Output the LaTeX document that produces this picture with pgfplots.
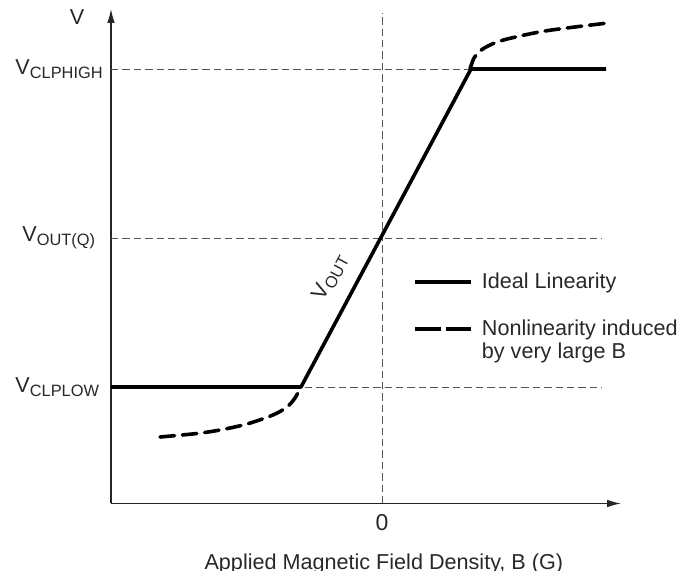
\documentclass[border=0pt]{standalone}
\usepackage{fontspec}
\setmainfont{Liberation Sans}
\usepackage{pgfplots}
\pgfplotsset{compat=1.18}
\usetikzlibrary{arrows.meta}
\definecolor{txt}{RGB}{40,40,40}
\definecolor{guide}{RGB}{85,85,85}
\newcommand{\sub}[1]{\raisebox{-2pt}{\fontsize{8.2}{9}\selectfont #1}}

\begin{document}
\begin{tikzpicture}
\begin{axis}[
    scale only axis,
    x=0.5pt, y=0.5pt,
    xmin=-271, xmax=239,
    ymin=0, ymax=494.5,
    axis x line=bottom, axis y line=left,
    axis line style={line width=0.6pt, black!85, -{Latex[length=7pt,width=3.8pt]}},
    xtick={0}, xticklabels={0},
    ytick={116.5,265.5,434.5},
    yticklabels={V\sub{CLPLOW}, \hspace*{3.5pt}V\sub{OUT(Q)}, V\sub{CLPHIGH}},
    major tick length=0pt,
    tick label style={font=\fontsize{10.8}{12}\selectfont, text=txt, inner sep=0pt},
    xticklabel style={anchor=center, yshift=-9.75pt, font=\fontsize{11.5}{12}\selectfont},
    yticklabel style={anchor=west, xshift=-48pt},
    xlabel={Applied Magnetic Field Density, B (G)},
    xlabel style={at={(axis description cs:0.535,-0.1325)}, anchor=base, inner sep=0pt,
        font=\fontsize{10.8}{12}\selectfont, text=txt},
    ylabel={V},
    ylabel style={at={(axis description cs:-0.0667,0.984)}, anchor=center, rotate=-90,
        font=\fontsize{10.8}{12}\selectfont, text=txt},
    legend style={at={(axis description cs:0.592,0.468)}, anchor=north west,
        draw=none, fill=none, inner sep=0pt, row sep=14pt, column sep=4.5pt,
        font=\fontsize{10.8}{11.6}\selectfont, text=txt,
        nodes={inner sep=0pt}},
    legend cell align=left,
    legend image code/.code={\draw[#1] (0pt,0pt) -- (28pt,0pt);},
    clip=false,
]

% reference guides
\addplot[guide, line width=0.45pt, dash pattern=on 3.7pt off 2pt, forget plot]
    coordinates {(-271,434.5) (220,434.5)};
\addplot[guide, line width=0.45pt, dash pattern=on 3.7pt off 2pt, forget plot]
    coordinates {(-271,265.5) (220,265.5)};
\addplot[guide, line width=0.45pt, dash pattern=on 3.7pt off 2pt, forget plot]
    coordinates {(-271,116.5) (220,116.5)};
\addplot[guide, line width=0.45pt, dash pattern=on 3.7pt off 2pt, forget plot]
    coordinates {(0,0) (0,490.5)};

\addlegendimage{black, line width=1.8pt}
\addlegendentry{Ideal Linearity}
\addlegendimage{black, line width=1.8pt, dash pattern=on 13pt off 2.5pt}
\addlegendentry{\begin{tabular}[t]{@{}l@{}}Nonlinearity induced\\by very large B\end{tabular}}

% nonlinear response (dashed)
\addplot[black, line width=1.8pt, smooth, line cap=round, dash pattern=on 7.3pt off 3.9pt, forget plot]
    coordinates {
    (-222,66.5) (-185,70) (-162,73.5) (-135,79.5) (-109,88.5)
    (-95,96.5) (-87,105.5) (-81,116.5)
    };
\addplot[black, line width=1.8pt, smooth, line cap=round, dash pattern=on 7.3pt off 3.9pt, forget plot]
    coordinates {
    (88,434.5) (92,445.5) (98,452.5) (106,457.5) (118,462.5)
    (138,467.5) (163,472.5) (193,476.5) (226,480.5)
    };

% ideal response
\addplot[black, line width=1.8pt, line join=round, forget plot]
    coordinates {(-271,116.5) (-81,116.5) (89,434.5) (224,434.5)};

\node[rotate=62, text=txt, font=\fontsize{10.8}{12}\selectfont] at (axis cs:-52,226.5) {V\sub{OUT}};

\coordinate (bbtl) at (axis cs:-382,503.5);
\coordinate (bbbr) at (axis cs:307,-67.5);
\end{axis}
\pgfresetboundingbox
\path[use as bounding box] (bbtl) rectangle (bbbr);
\end{tikzpicture}
\end{document}
